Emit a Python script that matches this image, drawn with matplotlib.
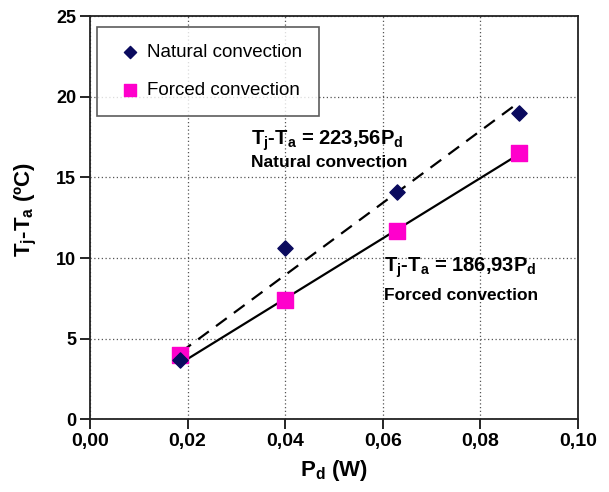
import numpy as np
import matplotlib
matplotlib.use('Agg')
import matplotlib.pyplot as plt

plt.rcParams['font.family'] = ['Liberation Sans', 'DejaVu Sans']
plt.rcParams['mathtext.default'] = 'regular'

# data
pd_nat = [0.0185, 0.040, 0.063, 0.088]
dt_nat = [3.7, 10.6, 14.1, 19.0]
pd_forced = [0.0185, 0.040, 0.063, 0.088]
dt_forced = [4.0, 7.4, 11.7, 16.5]

# fitted slopes
k_nat = 223.56
k_forced = 186.93

xticks = [0.0, 0.02, 0.04, 0.06, 0.08, 0.10]
xticklabels = ['0,00', '0,02', '0,04', '0,06', '0,08', '0,10']
yticks = [0, 5, 10, 15, 20, 25]

fig = plt.figure(figsize=(6.09, 4.92), dpi=100)
ax = fig.add_axes([0.1478, 0.148, 0.801, 0.819])

xfit = np.array([pd_nat[0], pd_nat[-1]])
ax.plot(xfit, k_nat * xfit, color='black', linestyle=(0, (6, 4)), linewidth=1.6, zorder=2)
ax.plot(xfit, k_forced * xfit, color='black', linestyle='-', linewidth=1.6, zorder=2)

ax.scatter(pd_forced, dt_forced, marker='s', s=120, color='#ff00cc', zorder=3,
           label='Forced convection')
ax.scatter(pd_nat, dt_nat, marker='D', s=60, color='#0a0a5e', zorder=4,
           label='Natural convection')

ax.set_xlim(0, 0.10)
ax.set_ylim(0, 25)
ax.set_xticks(xticks)
ax.set_xticklabels(xticklabels)
ax.set_yticks(yticks)
ax.tick_params(direction='out', length=7, width=1.2)
ax.tick_params(axis='x', labelsize=14, pad=3)
ax.tick_params(axis='y', labelsize=13, pad=3)
for lab in ax.get_xticklabels() + ax.get_yticklabels():
    lab.set_fontweight('bold')
ax.grid(True, color='#555555', linestyle=(0, (1, 2)), linewidth=0.9)
for sp in ax.spines.values():
    sp.set_linewidth(1.3)
    sp.set_color('#222222')

ax.set_xlabel('P$_{d}$ (W)', fontsize=16, fontweight='bold', labelpad=6)
ax.set_ylabel('T$_{j}$-T$_{a}$ (ºC)', fontsize=16, fontweight='bold')
ax.yaxis.set_label_coords(-0.105, 0.52)

ax.text(0.033, 17.3, 'T$_{j}$-T$_{a}$ = 223,56P$_{d}$', fontsize=14.5, fontweight='bold', va='center')
ax.text(0.033, 15.9, 'Natural convection', fontsize=12.5, fontweight='bold', va='center')
ax.text(0.0602, 9.37, 'T$_{j}$-T$_{a}$ = 186,93P$_{d}$', fontsize=14.5, fontweight='bold', va='center')
ax.text(0.0602, 7.7, 'Forced convection', fontsize=12.5, fontweight='bold', va='center')

handles, labels = ax.get_legend_handles_labels()
leg = ax.legend(handles[::-1], labels[::-1], loc='upper left', bbox_to_anchor=(0.014, 0.973),
                fontsize=13.5, frameon=True, fancybox=False, edgecolor='#333333',
                handletextpad=0.1, labelspacing=1.1, borderpad=0.9, handlelength=1.7,
                markerscale=0.8, borderaxespad=0)
leg.get_frame().set_linewidth(1.2)

plt.savefig('out.png', dpi=100)
